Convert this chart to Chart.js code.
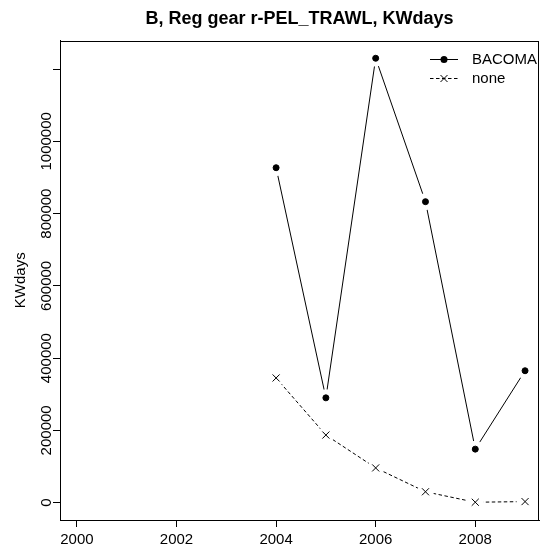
<!DOCTYPE html>
<html>
<head>
<meta charset="utf-8">
<title>B, Reg gear r-PEL_TRAWL, KWdays</title>
<script src="https://cdn.jsdelivr.net/npm/chart.js@4.4.1/dist/chart.umd.min.js"></script>
<style>
  html, body { margin: 0; padding: 0; background: #fff; }
  #wrap { width: 545px; height: 553px; }
</style>
</head>
<body>
<div id="wrap"><canvas id="chart" width="545" height="553"></canvas></div>
<script>
// Effort (KW days) by year for the regulated pelagic trawl gear
const years = [2004, 2005, 2006, 2007, 2008, 2009];
const bacomaKW = [927000, 290000, 1230000, 833000, 148000, 365000];
const noneKW = [345000, 187000, 96000, 30000, 1000, 2800];

// Axis ticks
const xTickValues = [2000, 2002, 2004, 2006, 2008];
const yTickValues = [0, 200000, 400000, 600000, 800000, 1000000, 1200000];
const yTickLabels = ['0', '200000', '400000', '600000', '800000', '1000000', ''];

const titleText = 'B, Reg gear r-PEL_TRAWL, KWdays';
const yAxisTitle = 'KWdays';
const seriesNames = ['BACOMA', 'none'];

const FONT = '"Liberation Sans", Arial, Helvetica, sans-serif';
const INK = '#000';
const GAP = 8.5;      // blank space left around each marker, as in a "both" plot
const DASH = [3.5, 2.5];

// axis limits: data range padded by 4 % on the value axis
const allY = bacomaKW.concat(noneKW);
const yLo = Math.min(...allY), yHi = Math.max(...allY);
const yPad = (yHi - yLo) * 0.04;
const xMin = 1999.66, xMax = 2009.28;

const toXY = (vals) => years.map((yr, i) => ({ x: yr, y: vals[i] }));

// paints white disks where markers sit, after the lines and before the markers
let gapsPainted = false;
const markerGaps = {
  id: 'markerGaps',
  beforeDatasetsDraw() { gapsPainted = false; },
  beforeDatasetDraw(chart, args) {
    const ds = chart.data.datasets[args.index];
    if (ds.showLine !== false || gapsPainted) return;
    gapsPainted = true;
    const ctx = chart.ctx;
    ctx.save();
    ctx.fillStyle = '#fff';
    chart.data.datasets.forEach((d, i) => {
      if (d.showLine !== false) return;
      chart.getDatasetMeta(i).data.forEach(pt => {
        ctx.beginPath();
        ctx.arc(pt.x, pt.y, GAP, 0, Math.PI * 2);
        ctx.fill();
      });
    });
    ctx.restore();
  }
};

// frame, title and legend
const decorations = {
  id: 'decorations',
  afterDraw(chart) {
    const ctx = chart.ctx;
    const a = chart.chartArea;
    ctx.save();
    ctx.strokeStyle = INK;
    ctx.lineWidth = 1;
    ctx.strokeRect(Math.round(a.left) + 0.5, Math.round(a.top) + 0.5,
                   Math.round(a.right - a.left) - 1, Math.round(a.bottom - a.top) - 1);

    ctx.fillStyle = INK;
    ctx.font = 'bold 18px ' + FONT;
    ctx.textAlign = 'center';
    ctx.textBaseline = 'alphabetic';
    ctx.fillText(titleText, (a.left + a.right) / 2, 24);

    // legend, top right
    const rows = [59, 78];
    const lx0 = 430, lx1 = 458, lm = 444, tx = 472;
    ctx.font = '15px ' + FONT;
    ctx.textAlign = 'left';
    ctx.textBaseline = 'middle';
    rows.forEach((ry, i) => {
      ctx.setLineDash(i === 0 ? [] : DASH);
      ctx.beginPath();
      ctx.moveTo(lx0, ry + 0.5);
      ctx.lineTo(lx1, ry + 0.5);
      ctx.stroke();
      ctx.setLineDash([]);
      if (i === 0) {
        ctx.beginPath();
        ctx.arc(lm, ry + 0.5, 3.5, 0, Math.PI * 2);
        ctx.fill();
      } else {
        const h = 3.5;
        ctx.beginPath();
        ctx.moveTo(lm - h, ry + 0.5 - h); ctx.lineTo(lm + h, ry + 0.5 + h);
        ctx.moveTo(lm - h, ry + 0.5 + h); ctx.lineTo(lm + h, ry + 0.5 - h);
        ctx.stroke();
      }
      ctx.fillText(seriesNames[i], tx, ry + 1);
    });
    ctx.restore();
  }
};

new Chart(document.getElementById('chart'), {
  type: 'scatter',
  data: {
    datasets: [
      { label: seriesNames[0], data: toXY(bacomaKW), showLine: true, order: 2,
        borderColor: INK, borderWidth: 1, pointRadius: 0, fill: false, tension: 0 },
      { label: seriesNames[1], data: toXY(noneKW), showLine: true, order: 2,
        borderColor: INK, borderWidth: 1, borderDash: DASH, pointRadius: 0, fill: false, tension: 0 },
      { label: seriesNames[0], data: toXY(bacomaKW), showLine: false, order: 1,
        pointStyle: 'circle', pointRadius: 3, pointBorderWidth: 1,
        pointBackgroundColor: INK, pointBorderColor: INK },
      { label: seriesNames[1], data: toXY(noneKW), showLine: false, order: 1,
        pointStyle: 'crossRot', pointRadius: 5, pointBorderWidth: 1,
        pointBackgroundColor: INK, pointBorderColor: INK }
    ]
  },
  options: {
    responsive: false,
    devicePixelRatio: 1,
    animation: false,
    events: [],
    layout: { padding: { top: 40.5, right: 4, bottom: 0, left: 0 } },
    plugins: { legend: { display: false }, tooltip: { enabled: false }, title: { display: false } },
    scales: {
      x: {
        type: 'linear', position: 'bottom', min: xMin, max: xMax,
        afterBuildTicks: s => { s.ticks = xTickValues.map(v => ({ value: v })); },
        afterFit: s => { s.height = 33; },
        grid: { display: true, drawOnChartArea: false, drawTicks: true, tickLength: 7, tickColor: INK, tickWidth: 1 },
        border: { display: true, color: INK, width: 1 },
        ticks: { color: INK, font: { family: FONT, size: 15 }, padding: 3.5,
                 maxRotation: 0, minRotation: 0, callback: v => String(v) }
      },
      y: {
        type: 'linear', position: 'left', min: yLo - yPad, max: yHi + yPad,
        afterBuildTicks: s => { s.ticks = yTickValues.map(v => ({ value: v })); },
        afterFit: s => { s.width = 60; },
        grid: { display: true, drawOnChartArea: false, drawTicks: true, tickLength: 7, tickColor: INK, tickWidth: 1 },
        border: { display: true, color: INK, width: 1 },
        title: { display: true, text: yAxisTitle, color: INK, font: { family: FONT, size: 15 },
                 padding: { top: 11.7, bottom: 0 } },
        ticks: { color: INK, font: { family: FONT, size: 15 }, minRotation: 90, maxRotation: 90,
                 crossAlign: 'center', padding: -22.9,
                 callback: (v, i) => yTickLabels[i] }
      }
    }
  },
  plugins: [markerGaps, decorations]
});
</script>
</body>
</html>
